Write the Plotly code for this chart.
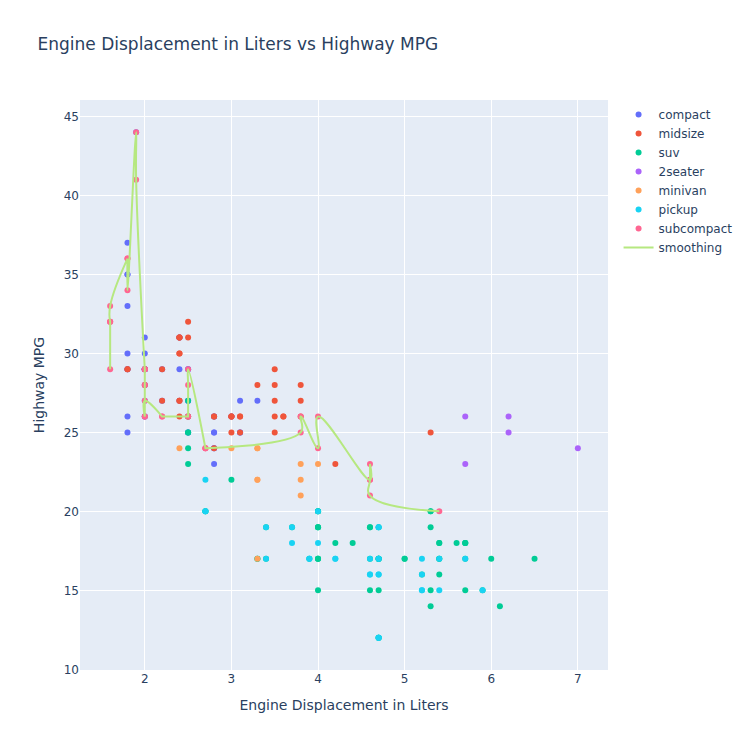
import plotly.graph_objects as go

# ---- data (mpg dataset: displacement in liters, highway mpg), by vehicle class ----
compact_displ = [1.8, 1.8, 2.0, 2.0, 2.8, 2.8, 3.1, 1.8, 1.8, 2.0, 2.0, 2.8, 2.8, 3.1, 3.1,
                 2.4, 2.4, 2.5, 2.5, 2.5, 2.5, 2.2, 2.2, 2.4, 2.4, 3.0, 3.0, 3.3,
                 1.8, 1.8, 1.8, 1.8, 1.8, 2.0, 2.0, 2.0, 2.0, 2.8, 1.9, 2.0, 2.0, 2.0,
                 2.0, 2.5, 2.5, 2.8, 2.8]
compact_hwy = [29, 29, 31, 30, 26, 26, 27, 26, 25, 28, 27, 25, 25, 25, 25,
               29, 27, 25, 27, 25, 27, 27, 29, 31, 31, 26, 26, 27,
               30, 33, 35, 37, 35, 29, 26, 29, 29, 24, 44, 29, 26, 29,
               29, 29, 29, 23, 24]

midsize_displ = [2.8, 3.1, 4.2, 2.4, 2.4, 3.1, 3.5, 3.6, 2.4, 2.4, 2.4, 2.4, 2.5, 2.5, 3.3,
                 2.5, 2.5, 3.5, 3.5, 3.0, 3.0, 3.5, 3.1, 3.8, 3.8, 3.8, 5.3,
                 2.2, 2.2, 2.4, 2.4, 3.0, 3.0, 3.5, 1.8, 1.8, 2.0, 2.0, 2.8, 2.8, 3.6]
midsize_hwy = [24, 25, 23, 27, 30, 26, 29, 26, 26, 27, 30, 31, 26, 26, 28,
               31, 32, 27, 26, 26, 25, 25, 26, 26, 27, 28, 25,
               29, 27, 31, 31, 26, 26, 28, 29, 29, 28, 29, 26, 26, 26]

suv_displ = [5.3, 5.3, 5.3, 5.7, 6.0, 5.3, 5.3, 5.7, 6.5,
             3.9, 4.7, 4.7, 4.7, 5.2, 5.7, 5.9,
             4.6, 5.4, 5.4, 4.0, 4.0, 4.0, 4.0, 4.6, 5.0,
             3.0, 3.7, 4.0, 4.7, 4.7, 4.7, 5.7, 6.1, 4.0, 4.2, 4.4, 4.6,
             5.4, 5.4, 5.4, 4.0, 4.0, 4.6, 5.0,
             3.3, 3.3, 4.0, 5.6, 2.5, 2.5, 2.5, 2.5, 2.5, 2.5,
             2.7, 2.7, 3.4, 3.4, 4.0, 4.7, 4.7, 5.7]
suv_hwy = [20, 15, 20, 17, 17, 19, 14, 15, 17,
           17, 17, 12, 17, 16, 18, 15,
           17, 17, 18, 17, 19, 17, 19, 19, 17,
           22, 19, 20, 17, 12, 19, 18, 14, 15, 18, 18, 15,
           17, 16, 18, 17, 19, 19, 17,
           17, 17, 20, 18, 25, 24, 27, 25, 26, 23,
           20, 20, 19, 17, 20, 17, 15, 18]

twoseater_displ = [5.7, 5.7, 6.2, 6.2, 7.0]
twoseater_hwy = [26, 23, 26, 25, 24]

minivan_displ = [2.4, 3.0, 3.3, 3.3, 3.3, 3.3, 3.3, 3.8, 3.8, 3.8, 4.0]
minivan_hwy = [24, 24, 22, 22, 24, 24, 17, 22, 21, 23, 23]

pickup_displ = [3.7, 3.7, 3.9, 3.9, 4.7, 4.7, 4.7, 5.2, 5.2,
                4.7, 4.7, 4.7, 4.7, 4.7, 4.7, 5.2, 5.2, 5.7, 5.9,
                4.2, 4.2, 4.6, 4.6, 4.6, 5.4, 5.4,
                2.7, 2.7, 2.7, 3.4, 3.4, 4.0, 4.0]
pickup_hwy = [19, 18, 17, 17, 19, 19, 12, 17, 15,
              16, 12, 17, 17, 16, 12, 15, 16, 17, 15,
              17, 17, 16, 16, 17, 15, 17,
              20, 20, 22, 17, 19, 18, 20]

subcompact_displ = [3.8, 3.8, 4.0, 4.0, 4.6, 4.6, 4.6, 4.6, 5.4,
                    1.6, 1.6, 1.6, 1.6, 1.6, 1.8, 1.8, 1.8, 2.0,
                    2.0, 2.0, 2.0, 2.0, 2.7, 2.7, 2.7,
                    2.2, 2.2, 2.5, 2.5, 1.9, 1.9, 2.0, 2.0, 2.5, 2.5]
subcompact_hwy = [26, 25, 26, 24, 21, 22, 23, 22, 20,
                  33, 32, 32, 29, 32, 34, 36, 36, 29,
                  26, 29, 28, 27, 24, 24, 24,
                  26, 26, 26, 26, 44, 41, 29, 26, 28, 29]

# smoothing line: subcompact points in the order the line visits them
smooth_displ = [1.6, 1.6, 1.6, 1.6, 1.6, 1.8, 1.8, 1.8, 1.9, 1.9,
                2.0, 2.0, 2.0, 2.0, 2.0, 2.0, 2.0, 2.2, 2.2, 2.5, 2.5, 2.5, 2.5,
                2.7, 2.7, 2.7, 3.8, 3.8, 4.0, 4.0, 4.6, 4.6, 4.6, 4.6, 5.4]
smooth_hwy = [29, 32, 32, 32, 33, 36, 36, 34, 44, 41,
              29, 29, 29, 28, 26, 26, 27, 26, 26, 26, 26, 28, 29,
              24, 24, 24, 25, 26, 24, 26, 22, 23, 22, 21, 20]

classes = ["compact", "midsize", "suv", "2seater", "minivan", "pickup", "subcompact"]
class_x = [compact_displ, midsize_displ, suv_displ, twoseater_displ, minivan_displ,
           pickup_displ, subcompact_displ]
class_y = [compact_hwy, midsize_hwy, suv_hwy, twoseater_hwy, minivan_hwy,
           pickup_hwy, subcompact_hwy]
colors = ["#636efa", "#EF553B", "#00cc96", "#ab63fa", "#FFA15A", "#19d3f3", "#FF6692"]

fig = go.Figure()
for name, xs, ys, c in zip(classes, class_x, class_y, colors):
    fig.add_trace(go.Scatter(x=xs, y=ys, mode="markers", name=name,
                             marker=dict(color=c, size=6)))

fig.add_trace(go.Scatter(x=smooth_displ, y=smooth_hwy, mode="lines", name="smoothing",
                         line=dict(color="#B6E880", width=2, shape="spline", smoothing=1.3)))

fig.update_layout(
    template="plotly",
    width=750, height=750,
    font=dict(family="Verdana, DejaVu Sans, sans-serif"),
    title=dict(text="Engine Displacement in Liters vs Highway MPG"),
    xaxis=dict(title=dict(text="Engine Displacement in Liters")),
    yaxis=dict(title=dict(text="Highway MPG")),
)

fig.write_html("out.html", config={"displayModeBar": False},
               post_script="document.body.style.margin='0px';")
